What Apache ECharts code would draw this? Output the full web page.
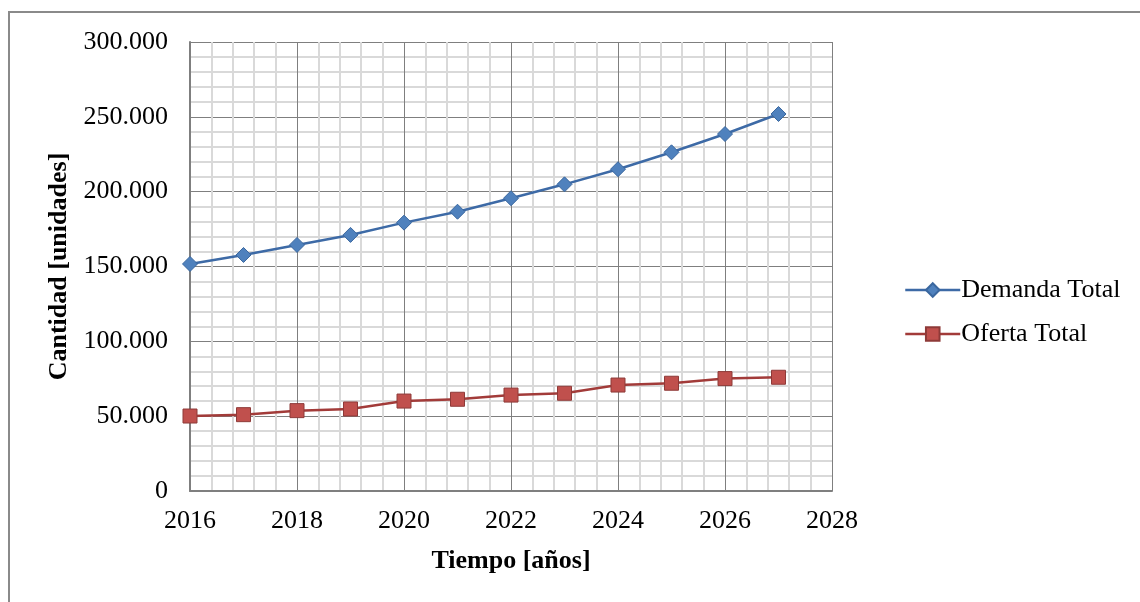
<!DOCTYPE html>
<html>
<head>
<meta charset="utf-8">
<title>Demanda y Oferta Total</title>
<script src="https://cdn.jsdelivr.net/npm/echarts@6/dist/echarts.min.js"></script>
<style>
  html, body { margin: 0; padding: 0; background: #ffffff; }
  #chart { width: 1140px; height: 602px; }
</style>
</head>
<body>
<div id="chart"></div>
<script>
// Years and projected quantities
const years = [2016, 2017, 2018, 2019, 2020, 2021, 2022, 2023, 2024, 2025, 2026, 2027];
const demandaTotal = [151700, 157700, 164400, 171100, 179300, 186600, 195600, 204900, 215000, 226300, 238500, 251900];
const ofertaTotal = [50100, 51000, 53700, 54800, 60100, 61300, 64100, 65300, 70800, 72000, 75100, 76000];
const seriesNames = ['Demanda Total', 'Oferta Total'];
const xAxisTitle = 'Tiempo [años]';
const yAxisTitle = 'Cantidad [unidades]';

const serif = '"Liberation Serif", "DejaVu Serif", serif';

function thousands(v) {
  return String(v).replace(/\B(?=(\d{3})+(?!\d))/g, '.');
}

const chart = echarts.init(document.getElementById('chart'), null, { renderer: 'canvas' });

chart.setOption({
  animation: false,
  backgroundColor: '#ffffff',
  textStyle: { fontFamily: serif },
  graphic: [{
    type: 'rect',
    shape: { x: 9, y: 12, width: 1200, height: 700 },
    style: { fill: 'none', stroke: '#8a8a8a', lineWidth: 2 },
    silent: true,
    z: -1
  }],
  grid: { left: 190, top: 42, right: 308, bottom: 111, containLabel: false },
  legend: {
    orient: 'vertical',
    left: 899,
    top: 272,
    itemWidth: 55,
    itemHeight: 17,
    itemGap: 18,
    data: seriesNames,
    lineStyle: { width: 2.5 },
    textStyle: { fontFamily: serif, fontSize: 26, lineHeight: 26, color: '#000000', padding: [0, 0, 0, -4] }
  },
  xAxis: {
    type: 'value',
    min: 2016,
    max: 2028,
    interval: 2,
    name: xAxisTitle,
    nameLocation: 'middle',
    nameGap: 57,
    nameTextStyle: { fontFamily: serif, fontSize: 26, fontWeight: 'bold', color: '#000000' },
    axisLine: { show: true, onZero: false, lineStyle: { color: '#7f7f7f', width: 2 } },
    axisTick: { show: false },
    axisLabel: { fontFamily: serif, fontSize: 26, color: '#000000', margin: 17, formatter: v => String(v) },
    splitLine: { show: true, lineStyle: { color: '#7f7f7f', width: 1 } },
    minorTick: { show: false, splitNumber: 5 },
    minorSplitLine: { show: true, lineStyle: { color: '#d9d9d9', width: 2 } }
  },
  yAxis: {
    type: 'value',
    min: 0,
    max: 300000,
    interval: 50000,
    name: yAxisTitle,
    nameLocation: 'middle',
    nameGap: 117,
    nameRotate: 90,
    nameTextStyle: { fontFamily: serif, fontSize: 26, fontWeight: 'bold', color: '#000000' },
    axisLine: { show: true, lineStyle: { color: '#7f7f7f', width: 2 } },
    axisTick: { show: false },
    axisLabel: { fontFamily: serif, fontSize: 26, color: '#000000', margin: 22, formatter: thousands },
    splitLine: { show: true, lineStyle: { color: '#7f7f7f', width: 1 } },
    minorTick: { show: false, splitNumber: 5 },
    minorSplitLine: { show: true, lineStyle: { color: '#d9d9d9', width: 2 } }
  },
  series: [
    {
      name: seriesNames[0],
      type: 'line',
      data: years.map((y, i) => [y, demandaTotal[i]]),
      symbol: 'diamond',
      symbolSize: 15,
      lineStyle: { color: '#3d6aa6', width: 2.5 },
      itemStyle: { color: '#4f81bd', borderColor: '#3a679f', borderWidth: 1 },
      z: 3
    },
    {
      name: seriesNames[1],
      type: 'line',
      data: years.map((y, i) => [y, ofertaTotal[i]]),
      symbol: 'rect',
      symbolSize: 14,
      lineStyle: { color: '#a23b39', width: 2.5 },
      itemStyle: { color: '#c0504d', borderColor: '#8e3a38', borderWidth: 1 },
      z: 3
    }
  ]
});
</script>
</body>
</html>
